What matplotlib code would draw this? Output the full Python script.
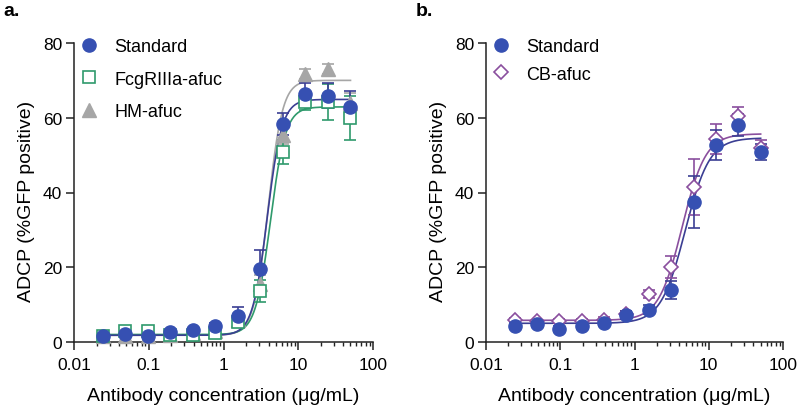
import numpy as np
import matplotlib
matplotlib.use('Agg')
import matplotlib.pyplot as plt
from matplotlib.ticker import LogLocator, NullFormatter, FixedLocator, FixedFormatter

plt.rcParams['font.family'] = ['Liberation Sans', 'DejaVu Sans']

# ---------------- data ----------------
conc = [0.0244, 0.0488, 0.0977, 0.195, 0.39, 0.78, 1.56, 3.125, 6.25, 12.5, 25, 50]

# panel a
a_std = [1.7, 2.1, 1.7, 2.8, 3.2, 4.4, 7.0, 19.5, 58.3, 66.3, 65.9, 62.9]
a_std_err = [0.5, 0.5, 0.5, 0.5, 0.6, 0.8, 2.4, 5.0, 3.0, 3.0, 3.3, 4.3]
a_fcg = [1.6, 2.9, 2.9, 1.9, 2.0, 2.5, 5.3, 13.7, 50.8, 64.2, 64.2, 59.9]
a_fcg_err = [0.4, 0.5, 0.5, 0.4, 0.5, 0.5, 1.0, 3.0, 3.2, 2.0, 4.8, 5.9]
a_hm = [1.5, 1.6, 1.6, 2.0, 2.5, 3.0, 5.8, 15.5, 55.5, 71.7, 73.0, 64.0]
a_hm_err = [0.3, 0.3, 0.3, 0.3, 0.4, 0.5, 1.0, 2.5, 2.5, 1.3, 1.3, 2.5]

# panel b
b_std = [4.2, 4.9, 3.6, 4.2, 5.1, 7.2, 8.6, 13.8, 37.4, 52.7, 58.1, 50.9]
b_std_err = [0.8, 0.6, 0.8, 0.8, 0.8, 1.0, 1.2, 2.4, 7.0, 4.0, 3.0, 2.2]
b_cb = [5.8, 5.5, 5.6, 5.6, 6.0, 7.5, 12.8, 20.1, 41.4, 54.2, 60.4, 52.0]
b_cb_err = [0.5, 0.5, 0.5, 0.5, 0.6, 0.8, 1.0, 3.0, 7.5, 4.0, 2.6, 2.0]

# 4-parameter logistic fit parameters: bottom, top, EC50, hill
a_fit = {
    'Standard': [1.8, 64.9, 3.85, 4.4],
    'FcgRIIIa-afuc': [2.0, 62.9, 4.25, 4.3],
    'HM-afuc': [1.8, 70.0, 3.95, 4.5],
}
b_fit = {
    'Standard': [5.0, 54.6, 4.82, 2.65],
    'CB-afuc': [5.8, 55.7, 4.38, 2.75],
}

x_ticks = [0.01, 0.1, 1, 10, 100]
x_ticklabels = ['0.01', '0.1', '1', '10', '100']
y_ticks = [0, 20, 40, 60, 80]

# ---------------- style ----------------
C_STD = '#3650b2'
C_STD_LINE = '#3b3e93'
C_FCG = '#2f9a6c'
C_HM = '#a6a6a6'
C_CB = '#8a4f9e'
C_CB_LINE = '#8a4f9e'


def fourpl(x, b, t, ec, h):
    x = np.asarray(x)
    return b + (t - b) / (1 + (ec / x) ** h)


fig = plt.figure(figsize=(8.0, 4.06), dpi=100)
ax_a = fig.add_axes([74 / 800, 63 / 406, 299 / 800, 299 / 406])
ax_b = fig.add_axes([486 / 800, 63 / 406, 297 / 800, 299 / 406])

xs = np.logspace(np.log10(conc[0]), np.log10(conc[-1]), 400)


def style_axis(ax):
    ax.set_xscale('log')
    ax.set_xlim(0.01, 100)
    ax.set_ylim(0, 80)
    ax.xaxis.set_major_locator(FixedLocator(x_ticks))
    ax.xaxis.set_major_formatter(FixedFormatter(x_ticklabels))
    ax.xaxis.set_minor_locator(LogLocator(base=10, subs=np.arange(2, 10), numticks=20))
    ax.xaxis.set_minor_formatter(NullFormatter())
    ax.set_yticks(y_ticks)
    for s in ['top', 'right']:
        ax.spines[s].set_visible(False)
    for s in ['left', 'bottom']:
        ax.spines[s].set_linewidth(1.1)
        ax.spines[s].set_color('#222222')
    ax.tick_params(axis='both', which='major', direction='out', length=5.5, width=1.1,
                   labelsize=12.5, color='#222222', pad=3)
    ax.tick_params(axis='x', which='major', pad=5)
    ax.tick_params(axis='x', which='minor', direction='out', length=3, width=1.0, color='#222222')
    ax.set_xlabel('Antibody concentration (\u03bcg/mL)', fontsize=14, labelpad=11)
    ax.set_ylabel('ADCP (%GFP positive)', fontsize=14)
    ax.yaxis.set_label_coords(-0.13, 0.475)
    ax.patch.set_alpha(0)


# ---------------- panel a ----------------
ax = ax_a
style_axis(ax)
ax.plot(xs, fourpl(xs, *a_fit['HM-afuc']), color=C_HM, lw=1.2, zorder=2)
ax.plot(xs, fourpl(xs, *a_fit['FcgRIIIa-afuc']), color=C_FCG, lw=1.2, zorder=2)
ax.plot(xs, fourpl(xs, *a_fit['Standard']), color=C_STD_LINE, lw=1.2, zorder=2)

ax.errorbar(conc, a_hm, yerr=a_hm_err, fmt='none', ecolor=C_HM, elinewidth=1.2, capsize=4.5, capthick=1.2, zorder=3)
ax.errorbar(conc, a_fcg, yerr=a_fcg_err, fmt='none', ecolor=C_FCG, elinewidth=1.2, capsize=4.5, capthick=1.2, zorder=3)
ax.errorbar(conc, a_std, yerr=a_std_err, fmt='none', ecolor=C_STD_LINE, elinewidth=1.2, capsize=4.5, capthick=1.2, zorder=3)

h_std, = ax.plot(conc, a_std, 'o', color=C_STD, ms=9.5, zorder=6, label='Standard', clip_on=False)
h_fcg, = ax.plot(conc, a_fcg, 's', mfc='white', mec=C_FCG, mew=1.2, ms=8, zorder=5, label='FcgRIIIa-afuc', clip_on=False)
h_hm, = ax.plot(conc, a_hm, '^', color=C_HM, ms=9.5, zorder=4, label='HM-afuc', clip_on=False)
ax.legend(handles=[h_std, h_fcg, h_hm], loc='upper left', bbox_to_anchor=(0.02, 1.017),
          frameon=False, fontsize=13, handlelength=1.0, handletextpad=0.9,
          labelspacing=0.87, borderpad=0, borderaxespad=0)

# ---------------- panel b ----------------
ax = ax_b
style_axis(ax)
ax.plot(xs, fourpl(xs, *b_fit['CB-afuc']), color=C_CB_LINE, lw=1.2, zorder=2)
ax.plot(xs, fourpl(xs, *b_fit['Standard']), color=C_STD_LINE, lw=1.2, zorder=2)
ax.errorbar(conc, b_cb, yerr=b_cb_err, fmt='none', ecolor=C_CB, elinewidth=1.2, capsize=4.5, capthick=1.2, zorder=3)
ax.errorbar(conc, b_std, yerr=b_std_err, fmt='none', ecolor=C_STD_LINE, elinewidth=1.2, capsize=4.5, capthick=1.2, zorder=3)
hb_cb, = ax.plot(conc, b_cb, 'D', mfc='white', mec=C_CB, mew=1.2, ms=7, zorder=4, label='CB-afuc', clip_on=False)
hb_std, = ax.plot(conc, b_std, 'o', color=C_STD, ms=9.5, zorder=5, label='Standard', clip_on=False)
ax.legend(handles=[hb_std, hb_cb], loc='upper left', bbox_to_anchor=(0.02, 1.017),
          frameon=False, fontsize=13, handlelength=1.0, handletextpad=0.9,
          labelspacing=0.6, borderpad=0, borderaxespad=0)

# panel letters
fig.text(3 / 800, 1 - 11 / 406, 'a.', fontsize=14, fontweight='bold', va='center', ha='left')
fig.text(416 / 800, 1 - 11 / 406, 'b.', fontsize=14, fontweight='bold', va='center', ha='left')

fig.savefig('out.png', dpi=100)
